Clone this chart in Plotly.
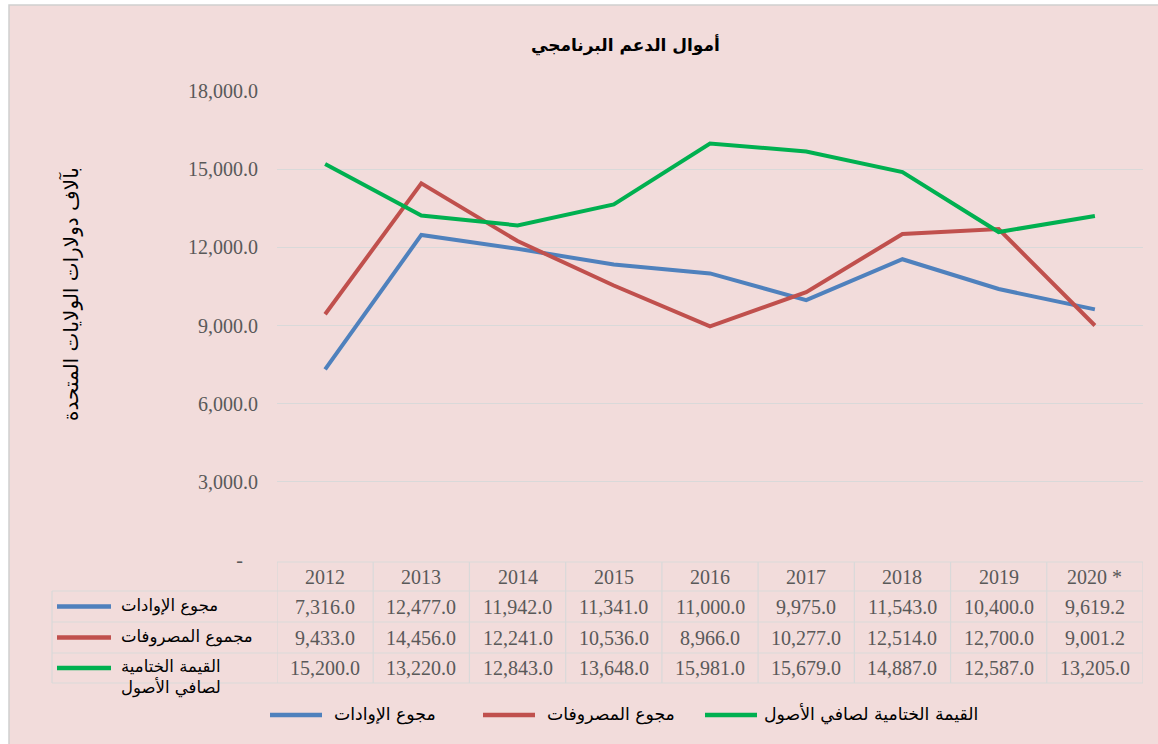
import plotly.graph_objects as go

# ---------------- data ----------------
years = ["2012", "2013", "2014", "2015", "2016", "2017", "2018", "2019", "2020 *"]
revenue = [7316.0, 12477.0, 11942.0, 11341.0, 11000.0, 9975.0, 11543.0, 10400.0, 9619.2]
expenses = [9433.0, 14456.0, 12241.0, 10536.0, 8966.0, 10277.0, 12514.0, 12700.0, 9001.2]
net_assets = [15200.0, 13220.0, 12843.0, 13648.0, 15981.0, 15679.0, 14887.0, 12587.0, 13205.0]

series_names_table = ["مجوع الإوادات", "مجموع المصروفات", "القيمة الختامية<br>لصافي الأصول"]
series_names_legend = ["مجوع الإوادات", "مجوع المصروفات", "القيمة الختامية لصافي الأصول"]
y_tick_vals = [0, 3000, 6000, 9000, 12000, 15000, 18000]
title_text = "أموال الدعم البرنامجي"
y_title_text = "بآلاف دولارات الولايات المتحدة"

# ---------------- style ----------------
W, H = 1158, 744
ML, MR, MT, MB = 277, 15, 91, 184
PW, PH = W - ML - MR, H - MT - MB
PINK = "#F2DCDB"
GRID = "#D9D9D9"
NUMFONT = "Liberation Serif"
NUMSIZE = 20
NUMCOL = "#595959"
ARFONT = "DejaVu Sans"
colors = ["#4F81BD", "#C0504D", "#00B050"]
series = [revenue, expenses, net_assets]


def px2x(px):
    return (px - ML) / PW


def py2y(py):
    return (H - MB - py) / PH


fig = go.Figure()
for vals, name, col in zip(series, series_names_legend, colors):
    fig.add_trace(go.Scatter(x=years, y=vals, mode="lines", name=name,
                             line=dict(color=col, width=4), showlegend=False,
                             hoverinfo="x+y"))

shapes = []
annotations = []

# background panel with light border on top/left
shapes.append(dict(type="rect", xref="paper", yref="paper", layer="below",
                   x0=px2x(9), x1=px2x(W + 5), y0=py2y(H + 5), y1=py2y(5),
                   fillcolor=PINK, line=dict(color="#D0D0D0", width=1.5)))

# ---------------- data table ----------------
top, hdr, r1, r2, bot = 562, 591, 622, 653, 683
table_left = 52
shapes.append(dict(type="line", xref="paper", yref="paper",
                   x0=px2x(ML), x1=px2x(ML + PW), y0=py2y(top), y1=py2y(top),
                   line=dict(color=GRID, width=1.2)))
for yy in [hdr, r1, r2, bot]:
    shapes.append(dict(type="line", xref="paper", yref="paper",
                       x0=px2x(table_left), x1=px2x(ML + PW), y0=py2y(yy), y1=py2y(yy),
                       line=dict(color=GRID, width=1.2)))
for i in range(len(years) + 1):
    shapes.append(dict(type="line", xref="x", yref="paper",
                       x0=i - 0.5, x1=i - 0.5, y0=py2y(top), y1=py2y(bot),
                       line=dict(color=GRID, width=1.2)))
shapes.append(dict(type="line", xref="paper", yref="paper",
                   x0=px2x(table_left), x1=px2x(table_left), y0=py2y(hdr), y1=py2y(bot),
                   line=dict(color=GRID, width=1.2)))

row_centers = [(hdr + r1) / 2, (r1 + r2) / 2, (r2 + bot) / 2]
numfont = dict(family=NUMFONT, size=NUMSIZE, color=NUMCOL)
tabfont = dict(family=ARFONT, size=16.5, color="#000000")
legfont = dict(family=ARFONT, size=17.3, color="#000000")
# header (category index positions on the category axis)
for i, yr in enumerate(years):
    annotations.append(dict(x=i, xref="x", y=py2y((top + hdr) / 2), yref="paper",
                            text=yr, showarrow=False, xanchor="center", yanchor="middle",
                            font=numfont))
# values
for vals, rc in zip(series, row_centers):
    for i, v in enumerate(vals):
        annotations.append(dict(x=i, xref="x", y=py2y(rc), yref="paper",
                                text=f"{v:,.1f}", showarrow=False,
                                xanchor="center", yanchor="middle", font=numfont))
# row labels with key lines
for k, (name, col, rc) in enumerate(zip(series_names_table, colors, row_centers)):
    shapes.append(dict(type="line", xref="paper", yref="paper",
                       x0=px2x(57), x1=px2x(111), y0=py2y(rc), y1=py2y(rc),
                       line=dict(color=col, width=4.5)))
    if k < 2:
        annotations.append(dict(x=px2x(119), xref="paper", y=py2y(rc - 1), yref="paper",
                                text=name, showarrow=False, xanchor="left", yanchor="middle",
                                font=tabfont))
    else:
        annotations.append(dict(x=px2x(119), xref="paper", y=py2y(rc - 13), yref="paper",
                                text=name, showarrow=False, xanchor="left", yanchor="top",
                                align="left", font=tabfont))

# ---------------- bottom legend ----------------
leg_y = 715
leg_items = [(270, 322, 332), (483, 535, 545), (705, 757, 762)]
for (sx0, sx1, tx), name, col in zip(leg_items, series_names_legend, colors):
    shapes.append(dict(type="line", xref="paper", yref="paper",
                       x0=px2x(sx0), x1=px2x(sx1), y0=py2y(leg_y), y1=py2y(leg_y),
                       line=dict(color=col, width=4.5)))
    annotations.append(dict(x=px2x(tx), xref="paper", y=py2y(leg_y - 1), yref="paper",
                            text=name, showarrow=False, xanchor="left", yanchor="middle",
                            font=legfont))

# ---------------- titles ----------------
annotations.append(dict(x=px2x(625), xref="paper", y=py2y(45), yref="paper",
                        text="<b>" + title_text + "</b>", showarrow=False,
                        xanchor="center", yanchor="middle",
                        font=dict(family=ARFONT, size=17, color="#000000")))
annotations.append(dict(x=px2x(70), xref="paper", y=py2y(294), yref="paper",
                        text=y_title_text, showarrow=False, textangle=-90,
                        xanchor="center", yanchor="middle",
                        font=dict(family=ARFONT, size=20, color="#000000")))

ticktext = ["-\u00a0\u00a0\u00a0"] + [f"{v:,.1f}" for v in y_tick_vals[1:]]

fig.update_layout(
    width=W, height=H,
    margin=dict(l=ML, r=MR, t=MT, b=MB, pad=0),
    paper_bgcolor="#FFFFFF",
    plot_bgcolor="rgba(0,0,0,0)",
    shapes=shapes,
    annotations=annotations,
    showlegend=False,
    xaxis=dict(type="category", range=[-0.5, len(years) - 0.5], showticklabels=False,
               showgrid=False, zeroline=False, showline=False, ticks=""),
    yaxis=dict(range=[0, 18000], tickvals=y_tick_vals, ticktext=ticktext,
               showgrid=True, gridcolor=GRID, gridwidth=1.2, zeroline=False,
               showline=False, ticks="", ticklabelstandoff=18,
               tickfont=numfont),
)

fig.write_html("out.html", config={"displayModeBar": False},
               post_script="document.body.style.margin='0';document.body.style.overflow='hidden';")
